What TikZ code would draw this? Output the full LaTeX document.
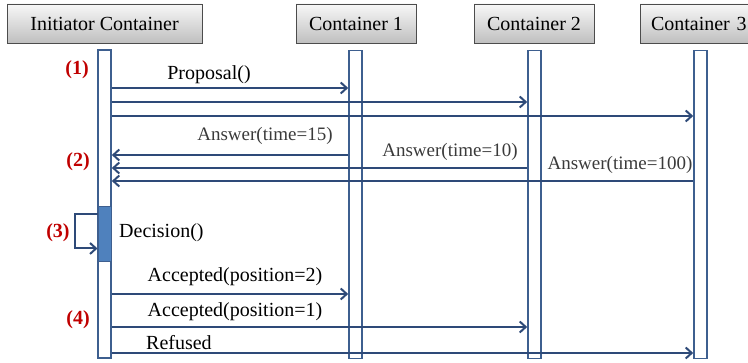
\documentclass[tikz,border=0pt]{standalone}
\usepackage{fontspec}
\setmainfont{Liberation Serif}
\usepackage{tikz}
\usetikzlibrary{arrows.meta,calc}
\definecolor{SeqLine}{HTML}{2E4A78}
\definecolor{SeqBar}{HTML}{3E5F8F}
\definecolor{SeqFill}{HTML}{4F81BD}
\definecolor{SeqRed}{HTML}{C00000}
\definecolor{SeqText}{HTML}{3A3A3A}

\tikzset{
  head/.style={draw=black!70,line width=0.8pt,top color=black!3,bottom color=black!25,
    minimum height=39pt,font=\fontsize{20}{24}\selectfont,inner sep=0pt},
  lifebar/.style={draw=SeqBar,line width=1.6pt,fill=white,minimum width=13pt,
    minimum height=308pt,inner sep=0pt},
  msg/.style={draw=SeqLine,line width=2pt,-{Straight Barb[length=6pt,width=11pt,line width=2pt]}},
  msglabel/.style={font=\fontsize{20}{24}\selectfont,inner sep=0pt},
  anslabel/.style={font=\fontsize{19}{23}\selectfont,text=SeqText,inner sep=0pt},
  stepnum/.style={font=\bfseries\fontsize{20}{24}\selectfont,text=SeqRed,inner sep=0pt}
}

\begin{document}
\begin{tikzpicture}[x=1pt,y=-1pt]
  \useasboundingbox (0,0) rectangle (748,363);

  % Headers
  \node[head,minimum width=195pt] (hini) at (104.5,23.5) {Initiator Container};
  \node[head,minimum width=120pt] (hc1) at (356,23.5) {Container 1};
  \node[head,minimum width=120pt] (hc2) at (534,23.5) {Container 2};
  \node[head,minimum width=120pt,text width=120pt,align=left] (hc3) at (700,23.5) {\hspace{11pt}Container 3};

  % Lifelines
  \node[lifebar] (ini) at (104.5,204) {};
  \node[lifebar] (c1) at (355.5,204.5) {};
  \node[lifebar] (c2) at (534.5,204.5) {};
  \node[lifebar] (c3) at (700.5,204.5) {};

  % Decision activity
  \node[fill=SeqFill,draw=SeqBar,line width=1pt,minimum width=13pt,minimum height=55pt,inner sep=0pt]
    (dec) at (104.5,234.5) {};

  % Message levels
  \coordinate (m1) at (0,88);
  \coordinate (m2) at (0,102);
  \coordinate (m3) at (0,116);
  \coordinate (m4) at (0,155);
  \coordinate (m5) at (0,168);
  \coordinate (m6) at (0,181);
  \coordinate (m7) at (0,294);
  \coordinate (m8) at (0,327);
  \coordinate (m9) at (0,353);

  % (1) proposals
  \draw[msg] (ini.east |- m1) -- (c1.west |- m1);
  \draw[msg] (ini.east |- m2) -- (c2.west |- m2);
  \draw[msg] (ini.east |- m3) -- (c3.west |- m3);
  \node[msglabel] (lprop) at (209,75) {Proposal()};

  % (2) answers
  \draw[msg] (c1.west |- m4) -- (ini.east |- m4);
  \draw[msg] (c2.west |- m5) -- (ini.east |- m5);
  \draw[msg] (c3.west |- m6) -- (ini.east |- m6);
  \node[anslabel] (la1) at (265,136) {Answer(time=15)};
  \node[anslabel] (la2) at (450,152) {Answer(time=10)};
  \node[anslabel] (la3) at (620,165) {Answer(time=100)};

  % (3) decision
  \draw[msg] ([yshift=-8pt]dec.north west) -- ++(-23,0) |- ([yshift=14pt]dec.south west);
  \node[msglabel,anchor=west] (ldec) at (119,233) {Decision()};

  % (4) results
  \draw[msg] (ini.east |- m7) -- (c1.west |- m7);
  \draw[msg] (ini.east |- m8) -- (c2.west |- m8);
  \draw[msg] (ini.east |- m9) -- (c3.west |- m9);
  \node[msglabel] (lacc2) at (235,277) {Accepted(position=2)};
  \node[msglabel] (lacc1) at (235,312) {Accepted(position=1)};
  \node[msglabel,anchor=west] (lref) at (146,343) {Refused};

  % Step numbers
  \node[stepnum] (s1) at (77,70) {(1)};
  \node[stepnum] (s2) at (78,162) {(2)};
  \node[stepnum] (s3) at (58,233) {(3)};
  \node[stepnum] (s4) at (78,320) {(4)};
\end{tikzpicture}
\end{document}
